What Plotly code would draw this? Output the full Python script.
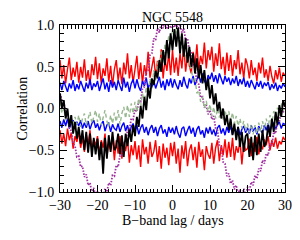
import numpy as np
import plotly.graph_objects as go

# Lag grid (days), 0.5-day steps from -30 to 30
lag = np.arange(-30, 30.5, 0.5)

red_upper = [
    0.58, 0.36, 0.52, 0.30, 0.47, 0.61, 0.34, 0.49, 0.38, 0.56,
    0.31, 0.50, 0.37, 0.59, 0.33, 0.46, 0.28, 0.53, 0.40, 0.62,
    0.35, 0.54, 0.30, 0.48, 0.39, 0.60, 0.32, 0.51, 0.27, 0.47,
    0.58, 0.34, 0.49, 0.29, 0.55, 0.41, 0.66, 0.36, 0.52, 0.31,
    0.47, 0.63, 0.35, 0.55, 0.30, 0.52, 0.40, 0.68, 0.37, 0.50,
    0.62, 0.38, 0.57, 0.44, 0.71, 0.36, 0.59, 0.45, 0.66, 0.40,
    0.70, 0.43, 0.61, 0.39, 0.66, 0.48, 0.76, 0.44, 0.63, 0.51,
    0.42, 0.68, 0.50, 0.77, 0.46, 0.63, 0.53, 0.79, 0.48, 0.70,
    0.58, 0.74, 0.44, 0.66, 0.51, 0.78, 0.47, 0.62, 0.40, 0.67,
    0.45, 0.64, 0.39, 0.58, 0.47, 0.70, 0.41, 0.55, 0.36, 0.60,
    0.52, 0.36, 0.58, 0.40, 0.49, 0.33, 0.55, 0.42, 0.61, 0.37,
    0.47, 0.33, 0.51, 0.38, 0.30, 0.46, 0.35, 0.49, 0.32, 0.43,
    0.39,
]

red_lower = [
    -0.26, -0.42, -0.30, -0.45, -0.24, -0.38, -0.29, -0.48, -0.33, -0.40,
    -0.28, -0.47, -0.35, -0.52, -0.31, -0.43, -0.26, -0.49, -0.37, -0.44,
    -0.33, -0.55, -0.38, -0.47, -0.30, -0.58, -0.41, -0.50, -0.35, -0.62,
    -0.38, -0.54, -0.33, -0.60, -0.42, -0.51, -0.36, -0.65, -0.44, -0.56,
    -0.39, -0.61, -0.44, -0.70, -0.37, -0.55, -0.46, -0.66, -0.40, -0.58,
    -0.52, -0.38, -0.64, -0.45, -0.72, -0.42, -0.59, -0.47, -0.68, -0.41,
    -0.57, -0.40, -0.66, -0.48, -0.77, -0.44, -0.60, -0.39, -0.69, -0.50,
    -0.43, -0.62, -0.46, -0.71, -0.40, -0.58, -0.49, -0.74, -0.45, -0.55,
    -0.60, -0.41, -0.66, -0.47, -0.38, -0.63, -0.44, -0.56, -0.37, -0.59,
    -0.40, -0.58, -0.35, -0.62, -0.45, -0.53, -0.38, -0.67, -0.42, -0.50,
    -0.48, -0.36, -0.57, -0.41, -0.52, -0.34, -0.55, -0.43, -0.49, -0.37,
    -0.44, -0.33, -0.50, -0.38, -0.46, -0.35, -0.48, -0.39, -0.43, -0.34,
    -0.38,
]

blue_upper = [
    0.31, 0.22, 0.33, 0.25, 0.20, 0.30, 0.24, 0.34, 0.21, 0.29,
    0.23, 0.33, 0.26, 0.20, 0.31, 0.24, 0.35, 0.22, 0.30, 0.26,
    0.33, 0.21, 0.29, 0.36, 0.23, 0.31, 0.20, 0.34, 0.25, 0.32,
    0.22, 0.34, 0.27, 0.21, 0.37, 0.25, 0.32, 0.20, 0.30, 0.35,
    0.24, 0.35, 0.26, 0.21, 0.33, 0.27, 0.37, 0.23, 0.32, 0.25,
    0.34, 0.24, 0.31, 0.38, 0.25, 0.33, 0.22, 0.35, 0.27, 0.36,
    0.25, 0.35, 0.28, 0.23, 0.34, 0.26, 0.38, 0.29, 0.24, 0.36,
    0.30, 0.39, 0.28, 0.35, 0.41, 0.31, 0.42, 0.33, 0.29, 0.40,
    0.35, 0.43, 0.32, 0.40, 0.30, 0.42, 0.34, 0.29, 0.39, 0.32,
    0.37, 0.28, 0.36, 0.30, 0.39, 0.27, 0.35, 0.29, 0.37, 0.26,
    0.33, 0.25, 0.34, 0.28, 0.23, 0.32, 0.26, 0.33, 0.24, 0.31,
    0.27, 0.32, 0.22, 0.29, 0.24, 0.31, 0.21, 0.28, 0.24, 0.30,
    0.26,
]

blue_lower = [
    -0.15, -0.23, -0.13, -0.21, -0.12, -0.24, -0.17, -0.14, -0.22, -0.16,
    -0.21, -0.14, -0.24, -0.17, -0.23, -0.15, -0.25, -0.18, -0.14, -0.23,
    -0.18, -0.26, -0.19, -0.15, -0.27, -0.20, -0.17, -0.28, -0.19, -0.24,
    -0.26, -0.18, -0.28, -0.21, -0.17, -0.27, -0.20, -0.30, -0.22, -0.18,
    -0.27, -0.20, -0.31, -0.23, -0.19, -0.29, -0.22, -0.32, -0.24, -0.20,
    -0.29, -0.22, -0.33, -0.24, -0.20, -0.30, -0.25, -0.34, -0.22, -0.29,
    -0.23, -0.31, -0.21, -0.30, -0.35, -0.24, -0.22, -0.33, -0.26, -0.21,
    -0.30, -0.23, -0.34, -0.25, -0.21, -0.31, -0.26, -0.35, -0.23, -0.30,
    -0.22, -0.31, -0.25, -0.33, -0.23, -0.20, -0.30, -0.24, -0.32, -0.22,
    -0.29, -0.21, -0.31, -0.24, -0.30, -0.22, -0.32, -0.25, -0.21, -0.29,
    -0.23, -0.30, -0.20, -0.28, -0.22, -0.31, -0.21, -0.27, -0.29, -0.20,
    -0.26, -0.18, -0.27, -0.20, -0.17, -0.25, -0.19, -0.16, -0.24, -0.18,
    -0.19,
]

ccf_black = [
    0.18, 0.00, 0.10, -0.12, 0.00, -0.22, -0.08, -0.30, -0.16, -0.36,
    -0.22, -0.42, -0.26, -0.50, -0.28, -0.53, -0.30, -0.58, -0.35, -0.55,
    -0.36, -0.62, -0.40, -0.78, -0.35, -0.60, -0.32, -0.52, -0.28, -0.50,
    -0.46, -0.30, -0.55, -0.32, -0.58, -0.30, -0.45, -0.25, -0.40, -0.20,
    -0.33, -0.10, -0.22, 0.03, -0.12, 0.14, -0.02, 0.25, 0.12, 0.36,
    0.28, 0.45, 0.36, 0.58, 0.44, 0.70, 0.52, 0.82, 0.60, 0.90,
    0.70, 0.95, 0.74, 0.97, 0.66, 0.90, 0.62, 0.84, 0.55, 0.74,
    0.50, 0.66, 0.42, 0.60, 0.36, 0.52, 0.30, 0.46, 0.22, 0.36,
    0.12, 0.28, 0.05, 0.18, -0.03, 0.08, -0.12, 0.00, -0.20, -0.08,
    -0.26, -0.12, -0.32, -0.18, -0.38, -0.22, -0.46, -0.28, -0.52, -0.33,
    -0.30, -0.58, -0.34, -0.62, -0.32, -0.56, -0.30, -0.52, -0.26, -0.46,
    -0.40, -0.20, -0.34, -0.12, -0.28, -0.04, -0.20, 0.04, -0.10, 0.10,
    0.02,
]

ccf_green = [
    0.08, -0.06, 0.00, -0.14, -0.04, -0.18, -0.08, -0.21, -0.10, -0.19,
    -0.08, -0.22, -0.12, -0.06, -0.20, -0.10, -0.04, -0.18, -0.08, -0.02,
    -0.16, -0.06, -0.20, -0.09, -0.02, -0.15, -0.22, -0.08, -0.18, -0.05,
    -0.16, -0.02, -0.19, -0.06, 0.02, -0.12, 0.04, -0.10, 0.06, -0.06,
    0.08, -0.04, 0.12, 0.02, 0.18, 0.06, 0.26, 0.14, 0.36, 0.24,
    0.46, 0.34, 0.56, 0.44, 0.68, 0.55, 0.78, 0.66, 0.88, 0.76,
    0.94, 0.82, 0.96, 0.80, 0.86, 0.72, 0.76, 0.60, 0.64, 0.48,
    0.50, 0.32, 0.36, 0.18, 0.22, 0.08, 0.14, 0.00, 0.09, -0.04,
    0.05, -0.09, 0.02, -0.12, 0.00, -0.11, 0.01, -0.13, -0.02, -0.12,
    -0.03, -0.15, -0.05, -0.18, -0.09, -0.21, -0.12, -0.24, -0.15, -0.27,
    -0.18, -0.29, -0.19, -0.31, -0.20, -0.30, -0.17, -0.28, -0.15, -0.26,
    -0.12, -0.23, -0.08, -0.18, -0.03, -0.13, 0.01, -0.08, 0.06, -0.03,
    0.08,
]

acf_purple = [
    0.18, 0.10, 0.08, -0.06, -0.07, -0.23, -0.27, -0.42, -0.45, -0.58,
    -0.57, -0.70, -0.69, -0.82, -0.79, -0.92, -0.89, -1.01, -0.95, -1.06,
    -0.99, -1.09, -0.98, -1.08, -0.96, -1.00, -0.89, -0.92, -0.80, -0.81,
    -0.68, -0.70, -0.56, -0.56, -0.39, -0.41, -0.26, -0.26, -0.12, -0.13,
    -0.01, -0.04, 0.09, 0.08, 0.24, 0.26, 0.44, 0.46, 0.64, 0.66,
    0.84, 0.82, 0.96, 0.91, 1.02, 0.96, 1.05, 0.95, 1.06, 0.96,
    1.03, 0.97, 1.04, 0.94, 1.01, 0.91, 0.96, 0.82, 0.84, 0.69,
    0.69, 0.52, 0.49, 0.31, 0.29, 0.13, 0.14, 0.01, 0.04, -0.07,
    -0.02, -0.13, -0.09, -0.24, -0.26, -0.44, -0.46, -0.64, -0.66, -0.81,
    -0.78, -0.90, -0.86, -0.97, -0.92, -1.02, -0.97, -1.07, -0.96, -1.06,
    -0.94, -0.99, -0.88, -0.92, -0.80, -0.84, -0.72, -0.75, -0.62, -0.66,
    -0.54, -0.56, -0.42, -0.44, -0.28, -0.30, -0.14, -0.16, -0.02, -0.05,
    0.07,
]

x_ticks = [-30, -20, -10, 0, 10, 20, 30]
y_ticks = [-1.0, -0.5, 0.0, 0.5, 1.0]

FONT = "Liberation Serif"

fig = go.Figure()


def add(y, color, width, dash="solid"):
    fig.add_trace(go.Scatter(
        x=lag, y=y, mode="lines",
        line=dict(color=color, width=width, dash=dash),
        hoverinfo="skip", showlegend=False,
    ))


add(red_upper, "#ff0000", 1.4)
add(red_lower, "#ff0000", 1.4)
add(blue_upper, "#0000ff", 1.4)
add(blue_lower, "#0000ff", 1.4)
add(acf_purple, "#a030a0", 1.8, "1.5px,1.5px")
add(ccf_green, "#98b890", 1.4, "4px,3px")
add(ccf_black, "#000000", 1.8)

axis_common = dict(
    ticks="inside", tickcolor="black", tickwidth=1,
    showline=True, linecolor="black", linewidth=1, mirror="allticks",
    showgrid=False, zeroline=False, automargin=False,
    tickfont=dict(family=FONT, size=14, color="black"),
)

fig.update_xaxes(
    range=[-30, 30], tickvals=x_ticks, ticklen=7,
    minor=dict(dtick=1, tick0=0, ticklen=3.5, ticks="inside",
               tickcolor="black", tickwidth=1, showgrid=False),
    ticklabelstandoff=0,
    **axis_common,
)
fig.update_yaxes(
    range=[-1, 1], tickvals=y_ticks, tickformat=".1f", ticklen=7,
    minor=dict(dtick=0.1, tick0=0, ticklen=3.5, ticks="inside",
               tickcolor="black", tickwidth=1, showgrid=False),
    ticklabelstandoff=2,
    **axis_common,
)

fig.add_annotation(text="NGC 5548", x=0.5, y=1, xref="paper", yref="paper",
                   xanchor="center", yanchor="bottom", yshift=-2, showarrow=False,
                   font=dict(family=FONT, size=14, color="black"))
fig.add_annotation(text="B\u2212band lag / days", x=0.5, y=0, xref="paper", yref="paper",
                   xanchor="center", yanchor="top", yshift=-19, showarrow=False,
                   font=dict(family=FONT, size=14, color="black"))
fig.add_annotation(text="Correlation", x=0, y=0.5, xref="paper", yref="paper",
                   xanchor="center", yanchor="middle", xshift=-38, textangle=-90,
                   showarrow=False, font=dict(family=FONT, size=14, color="black"))

# The page body adds an 8px margin, so the figure is sized to fit the window.
fig.update_layout(
    width=292, height=232,
    margin=dict(l=52, r=15, t=17, b=48),
    paper_bgcolor="white", plot_bgcolor="white",
    showlegend=False,
)

fig.write_html("out.html")
